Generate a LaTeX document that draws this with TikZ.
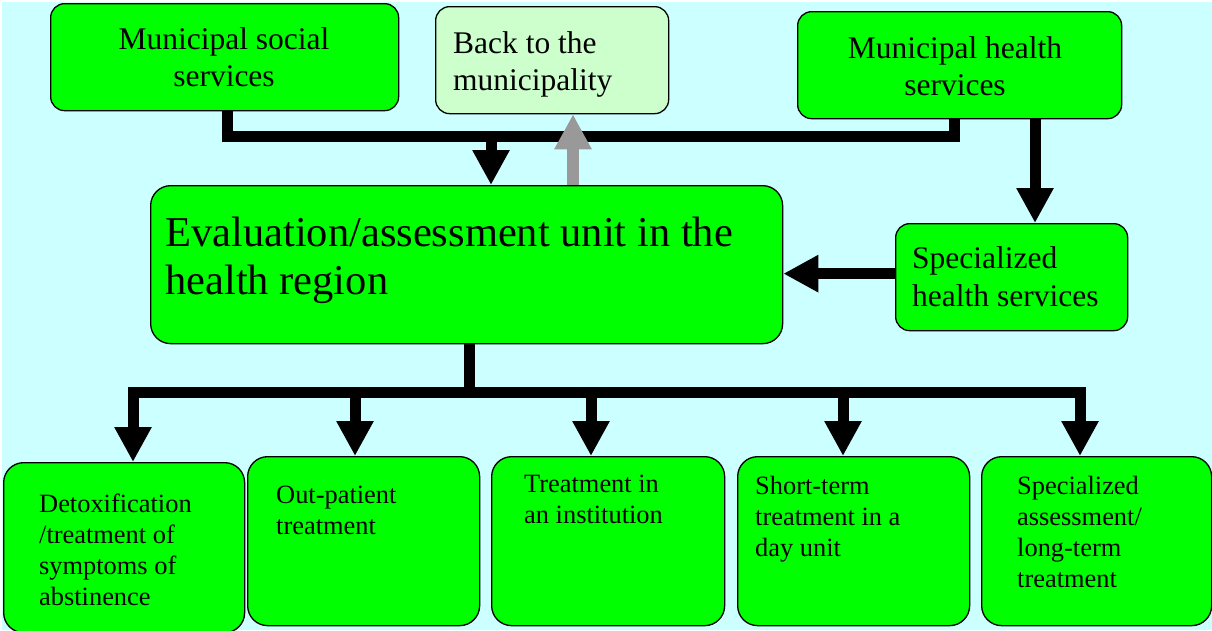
\documentclass[tikz,border=0pt]{standalone}
\usepackage{fontspec}
\setmainfont{Liberation Serif}
\usetikzlibrary{arrows.meta}
\definecolor{bgc}{HTML}{CCFFFF}
\definecolor{boxg}{HTML}{00FF00}
\definecolor{paleg}{HTML}{CCFFCC}
\definecolor{arrg}{HTML}{999999}
\newcommand\fTop{\fontsize{31.5}{36.5}\selectfont}
\newcommand\fBig{\fontsize{42.5}{48}\selectfont}
\newcommand\fSmall{\fontsize{26.4}{30.7}\selectfont}
\tikzset{Big/.tip={Triangle[length=35pt,width=35pt]}}
\begin{document}
\begin{tikzpicture}[x=1pt,y=-1pt,
  boxbase/.style={draw=black, line width=1.3pt, anchor=north west, inner sep=0pt},
  topbox/.style={boxbase, fill=boxg, rounded corners=14pt},
  palebox/.style={boxbase, fill=paleg, rounded corners=14pt},
  lowbox/.style={boxbase, fill=boxg, rounded corners=20pt},
  txt/.style={inner sep=0pt, align=left, anchor=base west},
  ctxt/.style={inner sep=0pt, align=center, anchor=base},
  conn/.style={draw=black, line width=11pt, line join=miter},
  grayconn/.style={draw=arrg, line width=12pt, -{Big[fill=arrg]}}]
\useasboundingbox (0,0) rectangle (1212,630);
\fill[white] (0,0) rectangle (1212,630);
\fill[bgc] (2,2) rectangle (1212,630);

% boxes
\node[topbox, minimum width=348pt, minimum height=107pt] (soc) at (50,3) {};
\node[palebox, minimum width=233pt, minimum height=107pt] (back) at (435,6) {};
\node[topbox, minimum width=324pt, minimum height=107pt] (mhs) at (797,11) {};
\node[lowbox, minimum width=632pt, minimum height=158pt] (eval) at (150,185) {};
\node[topbox, minimum width=232pt, minimum height=107pt] (spec) at (895,223) {};
\node[lowbox, minimum width=241pt, minimum height=170pt] (b1) at (3,462) {};
\node[lowbox, minimum width=232pt, minimum height=169pt] (b2) at (247,456) {};
\node[lowbox, minimum width=233pt, minimum height=169pt] (b3) at (491,456) {};
\node[lowbox, minimum width=232pt, minimum height=169pt] (b4) at (737,456) {};
\node[lowbox, minimum width=230pt, minimum height=169pt] (b5) at (981,456) {};

% texts (anchor = baseline of the last line)
\node[ctxt, font=\fTop] (soct) at (224,86) {Municipal social\\services};
\node[txt, font=\fTop] (backt) at (453,90) {Back to the\\municipality};
\node[ctxt, font=\fTop] (mhst) at (955,95) {Municipal health\\services};
\node[txt, font=\fBig] (evalt) at (165,294) {Evaluation/assessment unit in the\\health region};
\node[txt, font=\fTop, execute at begin node={\setlength{\baselineskip}{37.5pt}}] (spect) at (912,306) {Specialized\\health services};
\node[txt, font=\fSmall] (b1t) at (39,605) {Detoxification\\/treatment of\\symptoms of\\abstinence};
\node[txt, font=\fSmall] (b2t) at (276,534) {Out-patient\\treatment};
\node[txt, font=\fSmall] (b3t) at (524,523) {Treatment in\\an institution};
\node[txt, font=\fSmall] (b4t) at (755,556) {Short-term\\treatment in a\\day unit};
\node[txt, font=\fSmall] (b5t) at (1017,587) {Specialized\\assessment/\\long-term\\treatment};

% connector coordinates
\coordinate (j1) at (491,135);
\coordinate (g1) at (573,0);
\coordinate (k1) at (1035,0);
\coordinate (bus) at (0,392);
\coordinate (a1) at (133,392);
\coordinate (a2) at (355,392);
\coordinate (a3) at (591,392);
\coordinate (a4) at (843,392);
\coordinate (a5) at (1080,392);

% top bus
\draw[conn] ([xshift=3pt]soc.south) -- ++(0,25) -| ([xshift=-5.5pt]mhs.south);
\draw[conn, -{Big}] (j1) -- (j1 |- eval.north);
\draw[grayconn] (eval.north -| g1) -- (back.south -| g1);
\draw[conn, -{Big}] (mhs.south -| k1) -- (spec.north -| k1);
\draw[conn, -{Big}] ([yshift=3.5pt]spec.west) -- ([yshift=3.5pt]spec.west -| eval.east);

% bottom tree
\draw[conn] ([xshift=3pt]eval.south) -- ([xshift=3pt]eval.south |- bus);
\draw[conn, {Big}-{Big}] (a1 |- b1.north) -- (a1) -- (a5) -- (a5 |- b5.north);
\draw[conn, -{Big}] (a2) -- (a2 |- b2.north);
\draw[conn, -{Big}] (a3) -- (a3 |- b3.north);
\draw[conn, -{Big}] (a4) -- (a4 |- b4.north);
\end{tikzpicture}
\end{document}
